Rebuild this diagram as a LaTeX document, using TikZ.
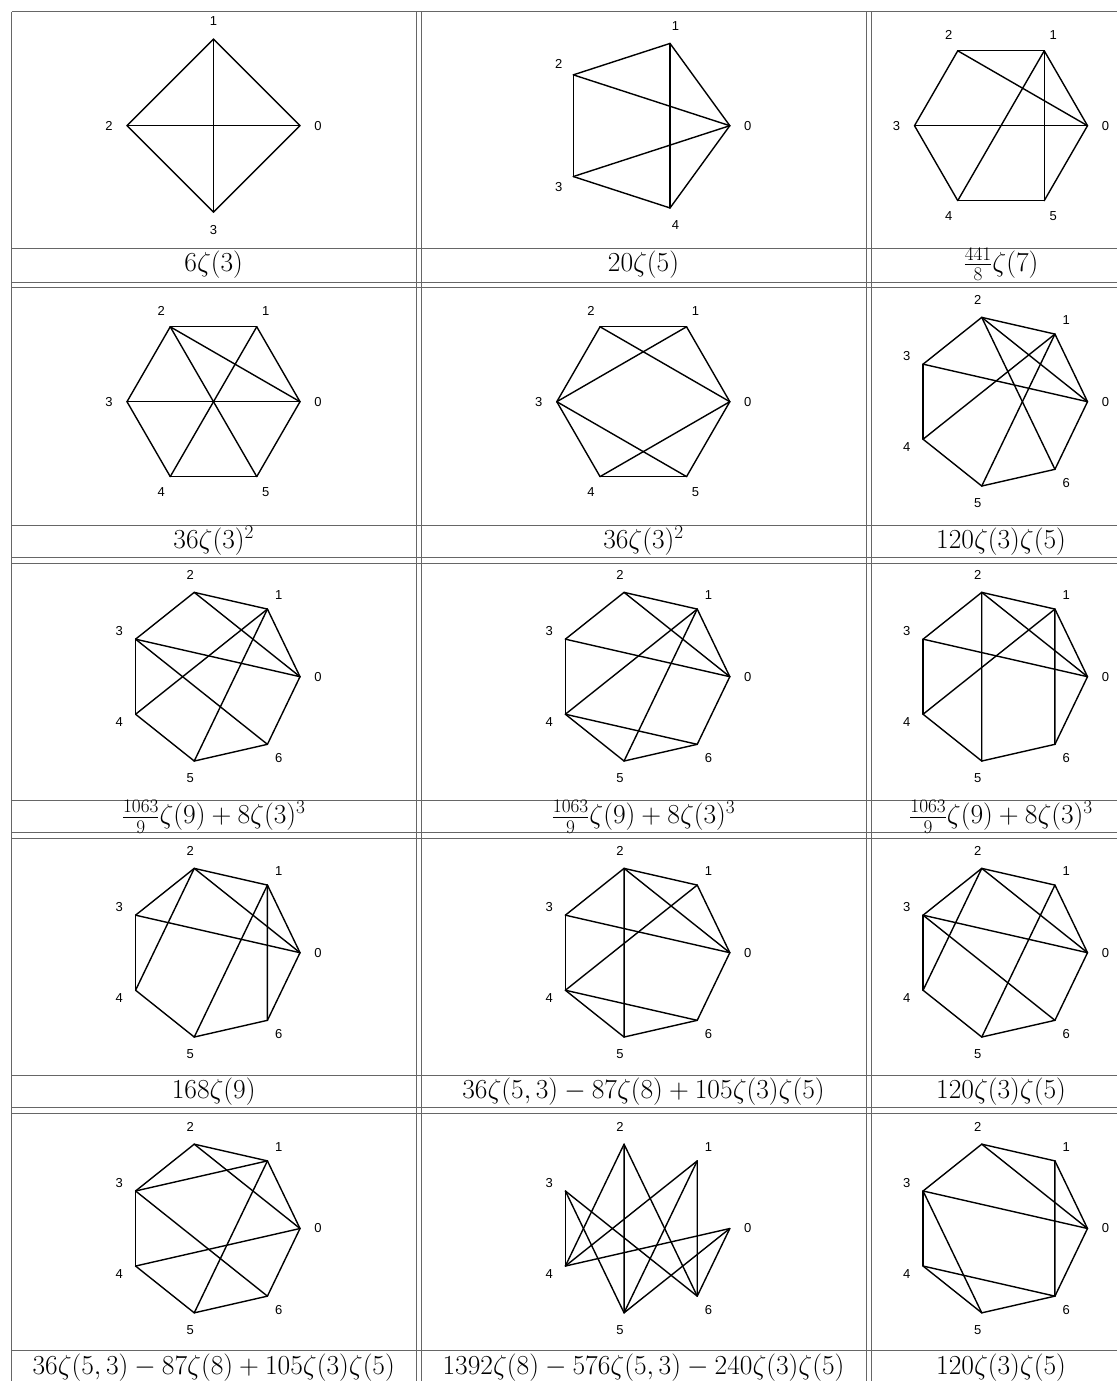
\RequirePackage{fix-cm}
\documentclass[tikz,border=0pt]{standalone}
\usepackage{fontspec}
\newfontfamily\lblfont{Liberation Sans}
\newcommand\cyc{0/1,1/2,2/3,3/4,4/5,5/6,6/0}
\newcommand\regraph[5]{%
  \pgfmathtruncatemacro\lastk{#2-1}%
  \foreach \k in {0,...,\lastk}{%
    \pgfmathsetmacro\ang{360*\k/#2}%
    \coordinate (#1v\k) at ({#3+86.5*cos(\ang)},{#4-86.5*sin(\ang)});
    \node[vlabel] (#1l\k) at ({#3+104.5*cos(\ang)},{#4-104.5*sin(\ang)}) {\k};
  }%
  \edef\edgelist{#5}%
  \foreach \a/\b in \edgelist \draw[edge] (#1v\a) -- (#1v\b);%
}
\begin{document}
\begin{tikzpicture}[x=1pt,y=-1pt,
  edge/.style={line width=1.4pt, line cap=round},
  vlabel/.style={font={\lblfont\fontsize{13}{15}\selectfont}, inner sep=0pt},
  tline/.style={line width=1pt, draw=black!60},
  formula/.style={font={\fontsize{27.5}{31}\selectfont}, inner sep=0pt, anchor=base}]
\useasboundingbox (0,0) rectangle (1117,1381);
% table lines
\foreach \x in {11.5,416,421,866,871} \draw[tline] (\x,12) -- (\x,1381);
\foreach \y in {12,248.3,282.3,287.3,525,557.3,563.3,800.7,832.7,838.7,1075,1107.5,1113.5,1350.5}
  \draw[tline] (11.5,\y) -- (1117,\y);
% row 1
\regraph{ga}{4}{213.5}{125.7}{0/1,1/2,2/3,3/0,1/3,0/2}
\regraph{gb}{5}{643.3}{125.7}{0/1,1/2,2/3,3/4,4/0,1/4,2/0,3/0}
\regraph{gc}{6}{1001}{125.7}{2/1,2/3,3/4,4/5,5/0,0/1,2/0,1/4,1/5,3/0}
% row 2
\regraph{gd}{6}{213.5}{401.7}{2/1,1/0,0/5,5/4,4/3,3/2,2/0,2/5,1/4,3/0}
\regraph{ge}{6}{643.3}{401.7}{2/1,1/0,0/5,5/4,4/3,3/2,2/0,1/3,3/5,4/0}
\regraph{gf}{7}{1001}{401.7}{\cyc,2/0,2/6,1/4,1/5,3/0}
% row 3
\regraph{gg}{7}{213.5}{676.7}{\cyc,2/0,1/4,1/5,3/0,3/6}
\regraph{gh}{7}{643.3}{676.7}{\cyc,2/0,3/0,1/4,1/5,4/6}
\regraph{gi}{7}{1001}{676.7}{\cyc,2/0,2/5,1/4,1/6,3/0}
% row 4
\regraph{gj}{7}{213.5}{952.7}{\cyc,2/4,2/0,1/5,1/6,3/0}
\regraph{gk}{7}{643.3}{952.7}{\cyc,2/5,2/0,1/4,3/0,4/6}
\regraph{gl}{7}{1001}{952.7}{\cyc,2/4,2/0,3/0,3/6,1/5}
% row 5
\regraph{gm}{7}{213.5}{1228.5}{\cyc,2/0,3/1,3/6,1/5,4/0}
\regraph{gn}{7}{643.3}{1228.5}{0/4,0/5,0/6,1/4,1/5,1/6,2/4,2/5,2/6,3/4,3/5,3/6}
\regraph{go}{7}{1001}{1228.5}{\cyc,2/0,3/0,1/6,3/5,4/6}
% formulas
\node[formula] (fa) at (213.7,271.3) {$6\zeta(3)$};
\node[formula] (fb) at (643.5,271.3) {$20\zeta(5)$};
\node[formula] (fc) at (1001,271.3) {$\frac{441}{8}\zeta(7)$};
\node[formula] (fd) at (213.7,548) {$36\zeta(3)^2$};
\node[formula] (fe) at (643.5,548) {$36\zeta(3)^2$};
\node[formula] (ff) at (1001,548) {$120\zeta(3)\zeta(5)$};
\node[formula] (fg) at (213.7,823.7) {$\frac{1063}{9}\zeta(9)+8\zeta(3)^3$};
\node[formula] (fh) at (643.5,823.7) {$\frac{1063}{9}\zeta(9)+8\zeta(3)^3$};
\node[formula] (fi) at (1001,823.7) {$\frac{1063}{9}\zeta(9)+8\zeta(3)^3$};
\node[formula] (fj) at (213.7,1098) {$168\zeta(9)$};
\node[formula] (fk) at (643.5,1098) {$36\zeta(5,3)-87\zeta(8)+105\zeta(3)\zeta(5)$};
\node[formula] (fl) at (1001,1098) {$120\zeta(3)\zeta(5)$};
\node[formula] (fm) at (213.7,1374) {$36\zeta(5,3)-87\zeta(8)+105\zeta(3)\zeta(5)$};
\node[formula] (fn) at (643.5,1374) {$1392\zeta(8)-576\zeta(5,3)-240\zeta(3)\zeta(5)$};
\node[formula] (fo) at (1001,1374) {$120\zeta(3)\zeta(5)$};
\end{tikzpicture}
\end{document}
